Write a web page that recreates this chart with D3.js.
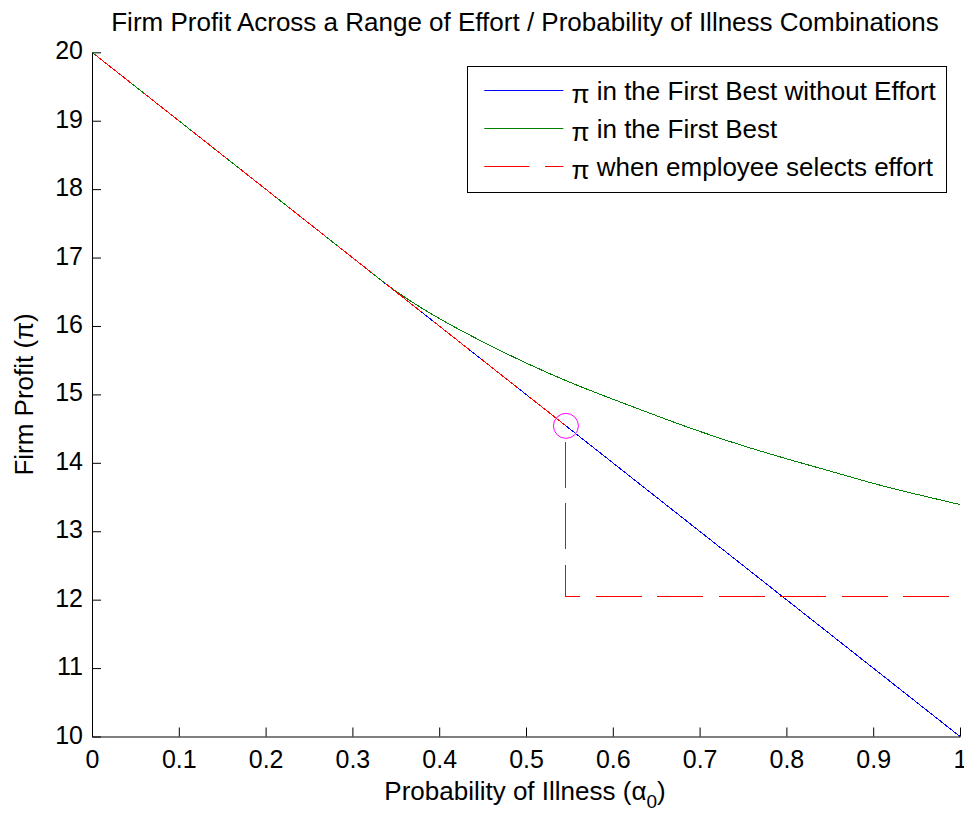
<!DOCTYPE html>
<html>
<head>
<meta charset="utf-8">
<script src="https://cdn.jsdelivr.net/npm/d3@7"></script>
<style>
  html, body { margin: 0; padding: 0; background: #fff; }
  svg { display: block; }
  text { font-family: "Liberation Sans", Arial, sans-serif; fill: #000; }
</style>
</head>
<body>
<div id="chart"></div>
<script>
// Probability of illness grid and profit without effort (straight line)
const alphaNoEffort = [0, 0.1, 0.2, 0.3, 0.4, 0.5, 0.6, 0.7, 0.8, 0.9, 1.0];
const profitNoEffort = [20, 19, 18, 17, 16, 15, 14, 13, 12, 11, 10];

// First-best profit: tracks the no-effort line, then bends away above it
const alphaFirstBest = [0, 0.1, 0.2, 0.3, 0.33, 0.35, 0.375, 0.40, 0.45, 0.50, 0.55, 0.60, 0.65, 0.70, 0.75, 0.80, 0.85, 0.90, 0.95, 1.0];
const profitFirstBest = [20, 19, 18, 17, 16.70, 16.51, 16.30, 16.11, 15.77, 15.46, 15.18, 14.93, 14.69, 14.46, 14.25, 14.06, 13.88, 13.70, 13.54, 13.39];

// Profit when the employee chooses effort: drops at the threshold
const alphaEffort = [0, 0.546, 0.546, 1.0];
const profitEffort = [20, 14.54, 12.05, 12.05];

// Threshold point
const thresholdAlpha = 0.546;
const thresholdProfit = 14.54;

// Axis ticks
const xTicks = [0, 0.1, 0.2, 0.3, 0.4, 0.5, 0.6, 0.7, 0.8, 0.9, 1];
const xTickLabels = ["0", "0.1", "0.2", "0.3", "0.4", "0.5", "0.6", "0.7", "0.8", "0.9", "1"];
const yTicks = [10, 11, 12, 13, 14, 15, 16, 17, 18, 19, 20];

const seriesNames = ["in the First Best without Effort", "in the First Best", "when employee selects effort"];
const seriesColors = ["#0000ff", "#008000", "#ff0000"];

const W = 964, H = 813;
const svg = d3.select("#chart").append("svg").attr("width", W).attr("height", H);

const x = d3.scaleLinear().domain([0, 1]).range([92, 960]);
const y = d3.scaleLinear().domain([10, 20]).range([736.5, 52.3]);

// Axes with inward ticks
const xAxis = d3.axisBottom(x).tickValues(xTicks).tickFormat((d, i) => xTickLabels[i])
  .tickSizeInner(-9).tickSizeOuter(0).tickPadding(14);
const gx = svg.append("g").attr("transform", `translate(0,${y(10)})`).call(xAxis);
gx.selectAll("text").attr("font-size", 25).attr("font-family", "Liberation Sans, Arial, sans-serif")
  .attr("dy", "0.71em").attr("fill", "#000");
gx.select(".domain").attr("stroke", "#000");
gx.selectAll(".tick line").attr("stroke", "#000");

const yAxis = d3.axisLeft(y).tickValues(yTicks).tickFormat(d3.format("d"))
  .tickSizeInner(-9).tickSizeOuter(0).tickPadding(9);
const gy = svg.append("g").attr("transform", `translate(${x(0)},0)`).call(yAxis);
gy.selectAll("text").attr("font-size", 25).attr("font-family", "Liberation Sans, Arial, sans-serif")
  .attr("dy", "0.26em").attr("fill", "#000");
gy.select(".domain").attr("stroke", "#000");
gy.selectAll(".tick line").attr("stroke", "#000");

// Lines (aliased, like a plain screen plot)
const line = d3.line().x(d => x(d[0])).y(d => y(d[1]));
const smooth = d3.line().x(d => x(d[0])).y(d => y(d[1])).curve(d3.curveMonotoneX);

svg.append("path")
  .datum(alphaNoEffort.map((a, i) => [a, profitNoEffort[i]]))
  .attr("d", line).attr("fill", "none").attr("stroke", seriesColors[0]).attr("stroke-width", 1)
  .attr("shape-rendering", "crispEdges");

svg.append("path")
  .datum(alphaFirstBest.map((a, i) => [a, profitFirstBest[i]]))
  .attr("d", smooth).attr("fill", "none").attr("stroke", seriesColors[1]).attr("stroke-width", 1)
  .attr("shape-rendering", "crispEdges");

svg.append("path")
  .datum(alphaEffort.map((a, i) => [a, profitEffort[i]]))
  .attr("d", line).attr("fill", "none").attr("stroke", seriesColors[2]).attr("stroke-width", 1)
  .attr("stroke-dasharray", "46 15.5").attr("stroke-dashoffset", -4.3)
  .attr("shape-rendering", "crispEdges");

// Threshold marker
svg.append("circle")
  .attr("cx", x(thresholdAlpha)).attr("cy", y(thresholdProfit)).attr("r", 12.5)
  .attr("fill", "none").attr("stroke", "#ff00ff").attr("stroke-width", 1);

// Title
svg.append("text").attr("x", 525).attr("y", 31).attr("text-anchor", "middle")
  .attr("font-size", 26)
  .text("Firm Profit Across a Range of Effort / Probability of Illness Combinations");

// X label with subscript
const xl = svg.append("text").attr("x", 525).attr("y", 800).attr("text-anchor", "middle").attr("font-size", 26);
xl.append("tspan").text("Probability of Illness (\u03b1");
xl.append("tspan").attr("dy", 8).attr("font-size", 19).text("0");
xl.append("tspan").attr("dy", -8).text(")");

// Y label
svg.append("text").attr("transform", `translate(33,${(y(10) + y(20)) / 2}) rotate(-90)`)
  .attr("text-anchor", "middle").attr("font-size", 26)
  .text("Firm Profit (\u03c0)");

// Legend
const lg = svg.append("g");
lg.append("rect").attr("x", 467.5).attr("y", 66.5).attr("width", 479).attr("height", 126)
  .attr("fill", "#fff").attr("stroke", "#000").attr("stroke-width", 1);
const rowY = [90.5, 128.5, 166.5];
seriesNames.forEach((name, i) => {
  const ln = lg.append("line").attr("x1", 484.3).attr("x2", 563.3).attr("y1", rowY[i]).attr("y2", rowY[i])
    .attr("stroke", seriesColors[i]).attr("stroke-width", 1);
  if (i === 2) ln.attr("stroke-dasharray", "45 15.7");
  const t = lg.append("text").attr("x", 571.5).attr("y", rowY[i] + 9.5).attr("font-size", 26);
  t.append("tspan").attr("dy", 3).text("\u03c0");
  t.append("tspan").attr("dy", -3).text(" " + name);
});
</script>
</body>
</html>
